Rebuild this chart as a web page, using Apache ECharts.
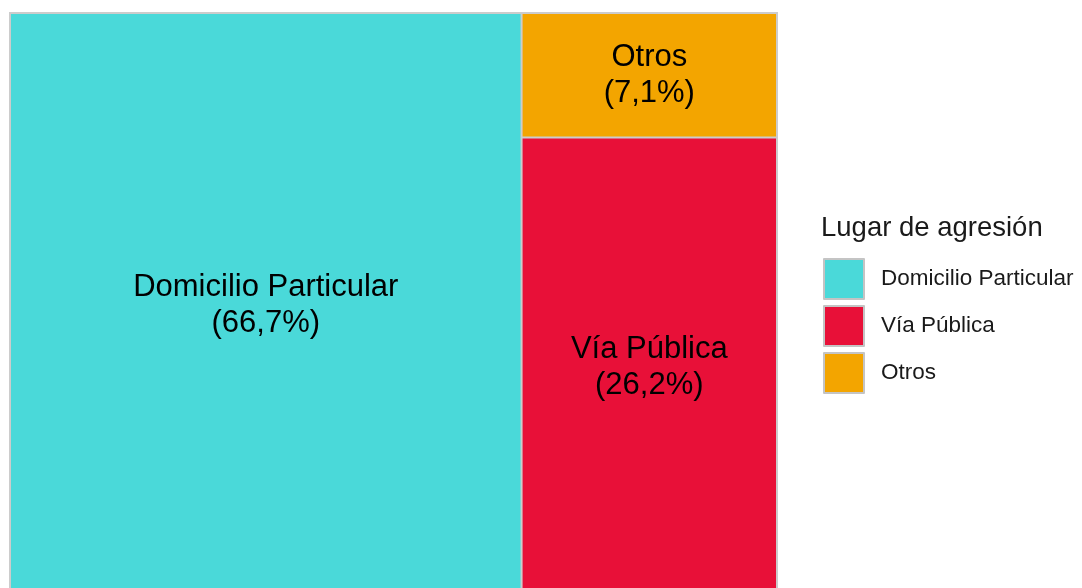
<!DOCTYPE html>
<html>
<head>
<meta charset="utf-8">
<script src="https://cdn.jsdelivr.net/npm/echarts@6/dist/echarts.min.js"></script>
<style>
  html, body { margin: 0; padding: 0; background: #fff; }
  #chart { width: 1082px; height: 588px; }
</style>
</head>
<body>
<div id="chart"></div>
<script>
"use strict";
// order of the treemap tiles (layout) and of the legend
var lugares = ['Domicilio Particular', 'Otros', 'Vía Pública'];
var porcentajes = [66.7, 7.1, 26.2];
var colores = ['#4ad9d9', '#f3a500', '#e81038'];
var leyenda = ['Domicilio Particular', 'Vía Pública', 'Otros'];

var font = '"Liberation Sans", Arial, sans-serif';
var chart = echarts.init(document.getElementById('chart'));

var tiles = lugares.map(function (name, i) {
    return { name: name, value: porcentajes[i], itemStyle: { color: colores[i] } };
});
// invisible pie only to feed the legend
var legendItems = leyenda.map(function (name) {
    return { name: name, value: 1, itemStyle: { color: colores[lugares.indexOf(name)] } };
});

var option = {
    animation: false,
    title: {
        text: 'Lugar de agresión',
        left: 816,
        top: 209,
        textStyle: { fontFamily: font, fontSize: 27.5, fontWeight: 'normal', color: '#1a1a1a' }
    },
    legend: {
        orient: 'vertical',
        left: 823,
        top: 258,
        padding: 0,
        itemWidth: 40,
        itemHeight: 40,
        itemGap: 5,
        icon: 'rect',
        selectedMode: false,
        data: leyenda,
        itemStyle: { borderColor: '#c4c4c4', borderWidth: 2 },
        textStyle: { fontFamily: font, fontSize: 22.5, color: '#1a1a1a', padding: [0, 0, 0, 12] }
    },
    series: [
        {
            type: 'treemap',
            left: 9,
            top: 12,
            width: 769,
            height: 586,
            sort: false,
            roam: false,
            nodeClick: false,
            breadcrumb: { show: false },
            itemStyle: { borderColor: '#cccccc', borderWidth: 1, gapWidth: 0 },
            label: {
                show: true,
                position: 'inside',
                align: 'center',
                verticalAlign: 'middle',
                fontFamily: font,
                fontSize: 31,
                lineHeight: 36,
                color: '#000',
                formatter: function (p) {
                    return p.name + '\n(' + String(p.value).replace('.', ',') + '%)';
                }
            },
            data: tiles
        },
        {
            type: 'pie',
            radius: [0, 0],
            center: [-100, -100],
            silent: true,
            label: { show: false },
            labelLine: { show: false },
            data: legendItems
        }
    ]
};

chart.setOption(option);
</script>
</body>
</html>
